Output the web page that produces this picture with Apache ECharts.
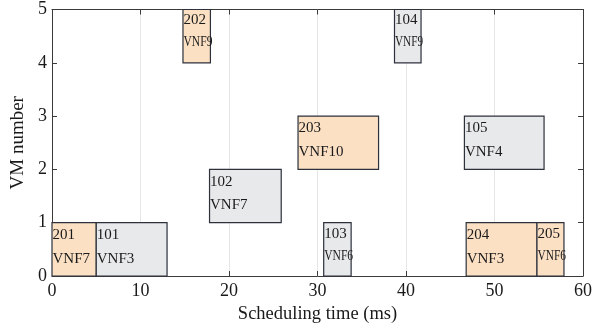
<!DOCTYPE html>
<html><head><meta charset="utf-8">
<script src="https://cdn.jsdelivr.net/npm/echarts@6/dist/echarts.min.js"></script>
<style>html,body{margin:0;padding:0;background:#fff}#c{width:600px;height:332px}</style>
</head><body><div id="c"></div>
<script>
var taskIds = ['201','101','202','104','203','102','105','103','204','205'];
var vnfNames = ['VNF7','VNF3','VNF9','VNF9','VNF10','VNF7','VNF4','VNF6','VNF3','VNF6'];
var startTimes = [0, 5, 14.8, 38.7, 27.8, 17.8, 46.6, 30.7, 46.8, 54.8];
var endTimes = [5, 13, 17.9, 41.7, 36.9, 25.9, 55.6, 33.8, 54.8, 57.85];
var vmNumbers = [0, 0, 4, 4, 2, 1, 2, 0, 0, 0];
var taskKinds = [2, 1, 2, 1, 2, 1, 1, 1, 2, 2];
var xTicks = [0, 10, 20, 30, 40, 50, 60];
var yTicks = [0, 1, 2, 3, 4, 5];

var data = taskIds.map(function (id, i) {
  return [startTimes[i], endTimes[i], vmNumbers[i], taskKinds[i], id, vnfNames[i]];
});
var font = '"Liberation Serif","DejaVu Serif",serif';
var axisCol = '#3a3a3a';
function baseAxis(extra) {
  var a = {
    type: 'value',
    axisLine: {show: true, onZero: false, lineStyle: {color: axisCol, width: 1}},
    axisTick: {show: true, inside: true, length: 5, lineStyle: {color: axisCol}},
    axisLabel: {fontFamily: font, fontSize: 18, color: '#1a1a1a'},
    splitLine: {show: false}
  };
  for (var k in extra) a[k] = extra[k];
  return a;
}
var chart = echarts.init(document.getElementById('c'));
chart.setOption({
  animation: false,
  grid: {left: 52, right: 17, top: 9.5, bottom: 56, containLabel: false, outerBoundsMode: 'none'},
  xAxis: [
    baseAxis({min: xTicks[0], max: xTicks[xTicks.length - 1], interval: 10,
      name: 'Scheduling time (ms)', nameLocation: 'middle', nameGap: 28,
      nameTextStyle: {fontFamily: font, fontSize: 18.5, color: '#1a1a1a'},
      axisLabel: {fontFamily: font, fontSize: 18, color: '#1a1a1a', margin: 6},
      splitLine: {show: true, lineStyle: {color: '#e6e6e6'}}}),
    baseAxis({position: 'top', min: 0, max: 60, interval: 10, axisLabel: {show: false}})
  ],
  yAxis: [
    baseAxis({min: yTicks[0], max: yTicks[yTicks.length - 1], interval: 1,
      name: 'VM number', nameLocation: 'middle', nameGap: 20,
      nameTextStyle: {fontFamily: font, fontSize: 19, color: '#1a1a1a'},
      axisLabel: {fontFamily: font, fontSize: 18, color: '#1a1a1a', margin: 5}}),
    baseAxis({position: 'right', min: 0, max: 5, interval: 1, axisLabel: {show: false}})
  ],
  series: [{
    type: 'custom',
    data: data,
    encode: {x: [0, 1], y: 2},
    clip: false,
    z: 1,
    renderItem: function (params, api) {
      var s = api.value(0), e = api.value(1), vm = api.value(2), k = api.value(3);
      var p0 = api.coord([s, vm + 1]);
      var p1 = api.coord([e, vm]);
      var w = p1[0] - p0[0], h = p1[1] - p0[1];
      var id = data[params.dataIndex][4], vnf = data[params.dataIndex][5];
      var fs = 15;
      var vnfW = vnf.length * fs * 0.625;
      var sx = Math.min(1, (w + 1.5) / vnfW);
      var narrow = sx < 0.95;
      if (!narrow) sx = 1;
      return {
        type: 'group',
        children: [{
          type: 'rect',
          shape: {x: p0[0], y: p0[1], width: w, height: h},
          style: {fill: k === 2 ? '#fbe0c4' : '#e8e9eb', stroke: '#2c313c', lineWidth: 1.2}
        }, {
          type: 'text',
          style: {text: id, x: 0, y: 0, verticalAlign: 'middle', align: 'left',
            font: fs + 'px ' + font, fill: '#1a1a1a'},
          x: p0[0] + 0.5, y: p0[1] + (narrow ? 11 : 12.3)
        }, {
          type: 'text',
          style: {text: vnf, x: 0, y: 0, verticalAlign: 'middle', align: 'left',
            font: fs + 'px ' + font, fill: '#1a1a1a'},
          x: p0[0] + 0.5, y: p0[1] + (narrow ? 33 : 36), scaleX: sx
        }]
      };
    }
  }]
});
</script></body></html>
